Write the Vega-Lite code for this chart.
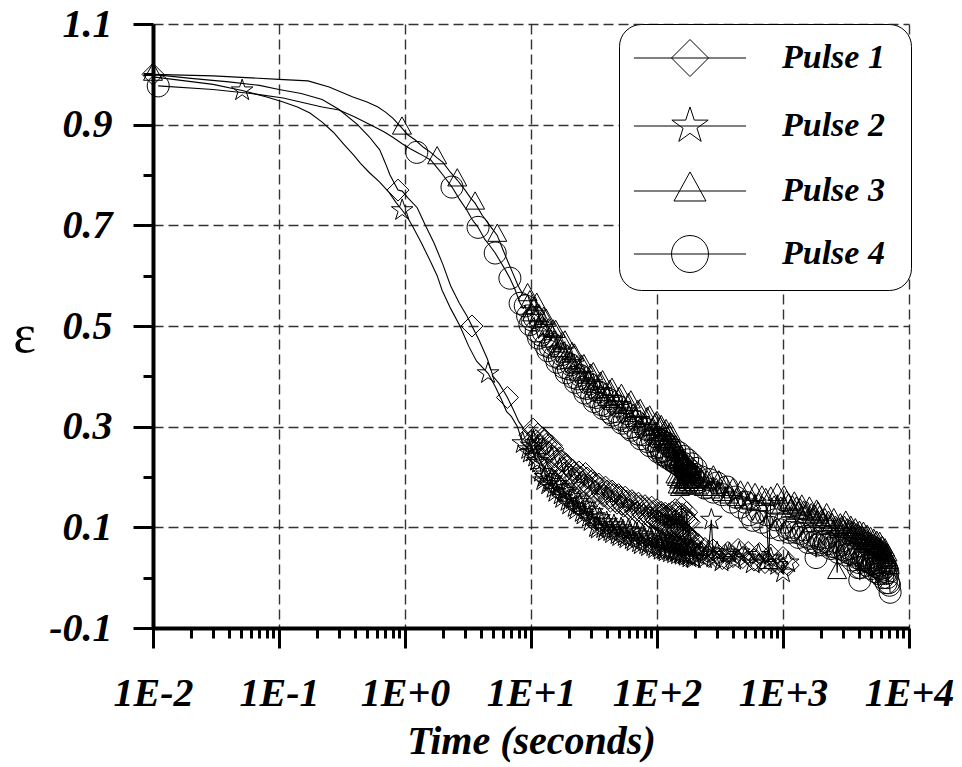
{
"$schema": "https://vega.github.io/schema/vega-lite/v6.json",
"width": 756, "height": 604,
"autosize": {"type": "none"},
"padding": {"left": 153, "top": 24, "right": 53, "bottom": 139},
"config": {"view": {"stroke": null}, "font": "Liberation Serif"},
"datasets": {
"early": [
{"pulse":"Pulse 1","time":0.01,"eps":1.0},{"pulse":"Pulse 1","time":0.88,"eps":0.77},{"pulse":"Pulse 1","time":3.4,"eps":0.5},{"pulse":"Pulse 1","time":6.5,"eps":0.358},
{"pulse":"Pulse 2","time":0.051,"eps":0.968},{"pulse":"Pulse 2","time":0.95,"eps":0.73},{"pulse":"Pulse 2","time":4.56,"eps":0.406},{"pulse":"Pulse 2","time":8.6,"eps":0.267},
{"pulse":"Pulse 3","time":0.01,"eps":1.0},{"pulse":"Pulse 3","time":0.946,"eps":0.893},{"pulse":"Pulse 3","time":1.8,"eps":0.834},{"pulse":"Pulse 3","time":2.6,"eps":0.79},{"pulse":"Pulse 3","time":3.6,"eps":0.744},{"pulse":"Pulse 3","time":5.4,"eps":0.68},
{"pulse":"Pulse 4","time":0.011,"eps":0.977},{"pulse":"Pulse 4","time":1.24,"eps":0.845},{"pulse":"Pulse 4","time":2.36,"eps":0.776},{"pulse":"Pulse 4","time":3.8,"eps":0.696},{"pulse":"Pulse 4","time":5.2,"eps":0.645},{"pulse":"Pulse 4","time":6.8,"eps":0.595},{"pulse":"Pulse 4","time":8.2,"eps":0.545}
],
"curve": [
{"pulse":"Pulse 1","time":0.01,"eps":1.0},{"pulse":"Pulse 1","time":0.02,"eps":0.992},{"pulse":"Pulse 1","time":0.04,"eps":0.985},{"pulse":"Pulse 1","time":0.07,"eps":0.978},{"pulse":"Pulse 1","time":0.1,"eps":0.97},{"pulse":"Pulse 1","time":0.15,"eps":0.962},{"pulse":"Pulse 1","time":0.22,"eps":0.95},{"pulse":"Pulse 1","time":0.3,"eps":0.93},{"pulse":"Pulse 1","time":0.42,"eps":0.9},{"pulse":"Pulse 1","time":0.52,"eps":0.876},{"pulse":"Pulse 1","time":0.63,"eps":0.85},{"pulse":"Pulse 1","time":0.7,"eps":0.823},{"pulse":"Pulse 1","time":0.76,"eps":0.8},{"pulse":"Pulse 1","time":0.88,"eps":0.77},{"pulse":"Pulse 1","time":0.95,"eps":0.768},{"pulse":"Pulse 1","time":1.05,"eps":0.755},{"pulse":"Pulse 1","time":1.25,"eps":0.735},{"pulse":"Pulse 1","time":1.45,"eps":0.7},{"pulse":"Pulse 1","time":1.7,"eps":0.665},{"pulse":"Pulse 1","time":2.0,"eps":0.622},{"pulse":"Pulse 1","time":2.3,"eps":0.58},{"pulse":"Pulse 1","time":2.7,"eps":0.545},{"pulse":"Pulse 1","time":3.1,"eps":0.52},{"pulse":"Pulse 1","time":3.4,"eps":0.5},{"pulse":"Pulse 1","time":3.9,"eps":0.47},{"pulse":"Pulse 1","time":4.5,"eps":0.435},{"pulse":"Pulse 1","time":5.0,"eps":0.4},{"pulse":"Pulse 1","time":5.6,"eps":0.385},{"pulse":"Pulse 1","time":6.1,"eps":0.37},{"pulse":"Pulse 1","time":6.5,"eps":0.358},{"pulse":"Pulse 1","time":7.2,"eps":0.335},{"pulse":"Pulse 1","time":8.0,"eps":0.31},{"pulse":"Pulse 1","time":8.8,"eps":0.295},
{"pulse":"Pulse 1","time":9.8,"eps":0.283},{"pulse":"Pulse 1","time":10.4,"eps":0.295},{"pulse":"Pulse 1","time":11.0,"eps":0.272},{"pulse":"Pulse 1","time":11.7,"eps":0.262},{"pulse":"Pulse 1","time":12.4,"eps":0.278},{"pulse":"Pulse 1","time":13.2,"eps":0.265},{"pulse":"Pulse 1","time":14.0,"eps":0.248},{"pulse":"Pulse 1","time":14.9,"eps":0.256},{"pulse":"Pulse 1","time":15.8,"eps":0.232},{"pulse":"Pulse 1","time":16.8,"eps":0.238},{"pulse":"Pulse 1","time":17.8,"eps":0.218},{"pulse":"Pulse 1","time":18.9,"eps":0.226},{"pulse":"Pulse 1","time":20.1,"eps":0.205},{"pulse":"Pulse 1","time":21.3,"eps":0.214},{"pulse":"Pulse 1","time":22.6,"eps":0.198},{"pulse":"Pulse 1","time":24.0,"eps":0.21},{"pulse":"Pulse 1","time":25.5,"eps":0.19},{"pulse":"Pulse 1","time":27.1,"eps":0.207},{"pulse":"Pulse 1","time":28.8,"eps":0.182},{"pulse":"Pulse 1","time":30.6,"eps":0.193},{"pulse":"Pulse 1","time":32.5,"eps":0.172},{"pulse":"Pulse 1","time":34.5,"eps":0.186},{"pulse":"Pulse 1","time":36.7,"eps":0.168},{"pulse":"Pulse 1","time":39.0,"eps":0.18},{"pulse":"Pulse 1","time":41.4,"eps":0.158},{"pulse":"Pulse 1","time":44.0,"eps":0.172},{"pulse":"Pulse 1","time":46.7,"eps":0.152},{"pulse":"Pulse 1","time":49.6,"eps":0.165},{"pulse":"Pulse 1","time":52.7,"eps":0.146},{"pulse":"Pulse 1","time":56.0,"eps":0.16},{"pulse":"Pulse 1","time":59.5,"eps":0.138},{"pulse":"Pulse 1","time":63.2,"eps":0.153},{"pulse":"Pulse 1","time":67.1,"eps":0.133},{"pulse":"Pulse 1","time":71.3,"eps":0.148},{"pulse":"Pulse 1","time":75.7,"eps":0.128},{"pulse":"Pulse 1","time":80.4,"eps":0.143},{"pulse":"Pulse 1","time":85.4,"eps":0.122},{"pulse":"Pulse 1","time":90.7,"eps":0.14},{"pulse":"Pulse 1","time":96.3,"eps":0.118},{"pulse":"Pulse 1","time":100,"eps":0.135},{"pulse":"Pulse 1","time":104,"eps":0.112},{"pulse":"Pulse 1","time":108,"eps":0.13},{"pulse":"Pulse 1","time":112,"eps":0.108},{"pulse":"Pulse 1","time":116,"eps":0.128},{"pulse":"Pulse 1","time":120,"eps":0.104},{"pulse":"Pulse 1","time":124,"eps":0.126},{"pulse":"Pulse 1","time":128,"eps":0.1},{"pulse":"Pulse 1","time":132,"eps":0.13},{"pulse":"Pulse 1","time":136,"eps":0.098},{"pulse":"Pulse 1","time":140,"eps":0.135},{"pulse":"Pulse 1","time":144,"eps":0.095},{"pulse":"Pulse 1","time":148,"eps":0.128},{"pulse":"Pulse 1","time":152,"eps":0.1},{"pulse":"Pulse 1","time":156,"eps":0.14},{"pulse":"Pulse 1","time":160,"eps":0.092},{"pulse":"Pulse 1","time":164,"eps":0.124},{"pulse":"Pulse 1","time":168,"eps":0.088},{"pulse":"Pulse 1","time":172,"eps":0.13},{"pulse":"Pulse 1","time":176,"eps":0.085},{"pulse":"Pulse 1","time":180,"eps":0.11},{"pulse":"Pulse 1","time":186,"eps":0.068},{"pulse":"Pulse 1","time":193,"eps":0.075},{"pulse":"Pulse 1","time":200,"eps":0.058},{"pulse":"Pulse 1","time":212,"eps":0.066},{"pulse":"Pulse 1","time":225,"eps":0.05},{"pulse":"Pulse 1","time":240,"eps":0.058},{"pulse":"Pulse 1","time":258,"eps":0.042},{"pulse":"Pulse 1","time":278,"eps":0.055},{"pulse":"Pulse 1","time":300,"eps":0.04},{"pulse":"Pulse 1","time":330,"eps":0.038},{"pulse":"Pulse 1","time":365,"eps":0.05},{"pulse":"Pulse 1","time":400,"eps":0.042},{"pulse":"Pulse 1","time":440,"eps":0.056},{"pulse":"Pulse 1","time":480,"eps":0.04},{"pulse":"Pulse 1","time":530,"eps":0.05},{"pulse":"Pulse 1","time":590,"eps":0.035},{"pulse":"Pulse 1","time":650,"eps":0.048},{"pulse":"Pulse 1","time":720,"eps":0.03},{"pulse":"Pulse 1","time":800,"eps":0.045},{"pulse":"Pulse 1","time":900,"eps":0.028},{"pulse":"Pulse 1","time":1000,"eps":0.04},{"pulse":"Pulse 1","time":1100,"eps":0.025},
{"pulse":"Pulse 2","time":0.01,"eps":0.995},{"pulse":"Pulse 2","time":0.03,"eps":0.98},{"pulse":"Pulse 2","time":0.051,"eps":0.968},{"pulse":"Pulse 2","time":0.08,"eps":0.955},{"pulse":"Pulse 2","time":0.108,"eps":0.945},{"pulse":"Pulse 2","time":0.14,"eps":0.935},{"pulse":"Pulse 2","time":0.176,"eps":0.923},{"pulse":"Pulse 2","time":0.22,"eps":0.905},{"pulse":"Pulse 2","time":0.27,"eps":0.885},{"pulse":"Pulse 2","time":0.33,"eps":0.86},{"pulse":"Pulse 2","time":0.39,"eps":0.84},{"pulse":"Pulse 2","time":0.44,"eps":0.824},{"pulse":"Pulse 2","time":0.52,"eps":0.805},{"pulse":"Pulse 2","time":0.63,"eps":0.786},{"pulse":"Pulse 2","time":0.75,"eps":0.765},{"pulse":"Pulse 2","time":0.85,"eps":0.745},{"pulse":"Pulse 2","time":0.95,"eps":0.73},{"pulse":"Pulse 2","time":1.05,"eps":0.715},{"pulse":"Pulse 2","time":1.16,"eps":0.696},{"pulse":"Pulse 2","time":1.35,"eps":0.665},{"pulse":"Pulse 2","time":1.58,"eps":0.63},{"pulse":"Pulse 2","time":1.8,"eps":0.6},{"pulse":"Pulse 2","time":1.97,"eps":0.571},{"pulse":"Pulse 2","time":2.3,"eps":0.535},{"pulse":"Pulse 2","time":2.73,"eps":0.5},{"pulse":"Pulse 2","time":3.2,"eps":0.46},{"pulse":"Pulse 2","time":3.7,"eps":0.43},{"pulse":"Pulse 2","time":4.56,"eps":0.406},{"pulse":"Pulse 2","time":5.2,"eps":0.38},{"pulse":"Pulse 2","time":5.8,"eps":0.355},{"pulse":"Pulse 2","time":6.4,"eps":0.33},{"pulse":"Pulse 2","time":7.0,"eps":0.32},{"pulse":"Pulse 2","time":7.8,"eps":0.3},{"pulse":"Pulse 2","time":8.6,"eps":0.267},
{"pulse":"Pulse 2","time":9.5,"eps":0.255},{"pulse":"Pulse 2","time":10.1,"eps":0.262},{"pulse":"Pulse 2","time":10.8,"eps":0.24},{"pulse":"Pulse 2","time":11.6,"eps":0.228},{"pulse":"Pulse 2","time":12.5,"eps":0.193},{"pulse":"Pulse 2","time":13.3,"eps":0.205},{"pulse":"Pulse 2","time":14.2,"eps":0.19},{"pulse":"Pulse 2","time":15.1,"eps":0.178},{"pulse":"Pulse 2","time":16.1,"eps":0.186},{"pulse":"Pulse 2","time":17.2,"eps":0.165},{"pulse":"Pulse 2","time":18.3,"eps":0.172},{"pulse":"Pulse 2","time":19.5,"eps":0.152},{"pulse":"Pulse 2","time":20.8,"eps":0.16},{"pulse":"Pulse 2","time":22.2,"eps":0.14},{"pulse":"Pulse 2","time":23.7,"eps":0.15},{"pulse":"Pulse 2","time":25.3,"eps":0.13},{"pulse":"Pulse 2","time":27.0,"eps":0.142},{"pulse":"Pulse 2","time":28.8,"eps":0.12},{"pulse":"Pulse 2","time":30.7,"eps":0.13},{"pulse":"Pulse 2","time":32.8,"eps":0.1},{"pulse":"Pulse 2","time":35.0,"eps":0.118},{"pulse":"Pulse 2","time":37.4,"eps":0.098},{"pulse":"Pulse 2","time":39.9,"eps":0.11},{"pulse":"Pulse 2","time":42.6,"eps":0.092},{"pulse":"Pulse 2","time":45.5,"eps":0.104},{"pulse":"Pulse 2","time":48.6,"eps":0.086},{"pulse":"Pulse 2","time":51.9,"eps":0.098},{"pulse":"Pulse 2","time":55.4,"eps":0.082},{"pulse":"Pulse 2","time":59.1,"eps":0.094},{"pulse":"Pulse 2","time":63.1,"eps":0.076},{"pulse":"Pulse 2","time":67.4,"eps":0.09},{"pulse":"Pulse 2","time":72.0,"eps":0.07},{"pulse":"Pulse 2","time":76.9,"eps":0.084},{"pulse":"Pulse 2","time":82.1,"eps":0.066},{"pulse":"Pulse 2","time":87.7,"eps":0.08},{"pulse":"Pulse 2","time":93.6,"eps":0.062},{"pulse":"Pulse 2","time":100,"eps":0.078},{"pulse":"Pulse 2","time":105,"eps":0.06},{"pulse":"Pulse 2","time":110,"eps":0.076},{"pulse":"Pulse 2","time":115,"eps":0.056},{"pulse":"Pulse 2","time":120,"eps":0.074},{"pulse":"Pulse 2","time":125,"eps":0.054},{"pulse":"Pulse 2","time":130,"eps":0.072},{"pulse":"Pulse 2","time":135,"eps":0.052},{"pulse":"Pulse 2","time":140,"eps":0.07},{"pulse":"Pulse 2","time":145,"eps":0.05},{"pulse":"Pulse 2","time":150,"eps":0.068},{"pulse":"Pulse 2","time":155,"eps":0.048},{"pulse":"Pulse 2","time":160,"eps":0.066},{"pulse":"Pulse 2","time":166,"eps":0.046},{"pulse":"Pulse 2","time":172,"eps":0.062},{"pulse":"Pulse 2","time":178,"eps":0.044},{"pulse":"Pulse 2","time":185,"eps":0.06},{"pulse":"Pulse 2","time":192,"eps":0.04},{"pulse":"Pulse 2","time":200,"eps":0.052},{"pulse":"Pulse 2","time":210,"eps":0.045},{"pulse":"Pulse 2","time":225,"eps":0.048},{"pulse":"Pulse 2","time":240,"eps":0.038},{"pulse":"Pulse 2","time":255,"eps":0.052},{"pulse":"Pulse 2","time":270,"eps":0.115},{"pulse":"Pulse 2","time":280,"eps":0.04},{"pulse":"Pulse 2","time":300,"eps":0.05},{"pulse":"Pulse 2","time":325,"eps":0.032},{"pulse":"Pulse 2","time":350,"eps":0.045},{"pulse":"Pulse 2","time":376,"eps":0.048},{"pulse":"Pulse 2","time":410,"eps":0.035},{"pulse":"Pulse 2","time":450,"eps":0.05},{"pulse":"Pulse 2","time":500,"eps":0.04},{"pulse":"Pulse 2","time":575,"eps":0.028},{"pulse":"Pulse 2","time":640,"eps":0.045},{"pulse":"Pulse 2","time":720,"eps":0.03},{"pulse":"Pulse 2","time":800,"eps":0.038},{"pulse":"Pulse 2","time":900,"eps":0.025},{"pulse":"Pulse 2","time":1000,"eps":0.01},{"pulse":"Pulse 2","time":1100,"eps":0.03},
{"pulse":"Pulse 3","time":0.01,"eps":1.0},{"pulse":"Pulse 3","time":0.03,"eps":0.997},{"pulse":"Pulse 3","time":0.06,"eps":0.993},{"pulse":"Pulse 3","time":0.1,"eps":0.99},{"pulse":"Pulse 3","time":0.17,"eps":0.987},{"pulse":"Pulse 3","time":0.25,"eps":0.975},{"pulse":"Pulse 3","time":0.386,"eps":0.955},{"pulse":"Pulse 3","time":0.5,"eps":0.945},{"pulse":"Pulse 3","time":0.61,"eps":0.935},{"pulse":"Pulse 3","time":0.7,"eps":0.925},{"pulse":"Pulse 3","time":0.8,"eps":0.913},{"pulse":"Pulse 3","time":0.946,"eps":0.893},{"pulse":"Pulse 3","time":1.05,"eps":0.88},{"pulse":"Pulse 3","time":1.2,"eps":0.87},{"pulse":"Pulse 3","time":1.4,"eps":0.855},{"pulse":"Pulse 3","time":1.6,"eps":0.845},{"pulse":"Pulse 3","time":1.8,"eps":0.834},{"pulse":"Pulse 3","time":2.0,"eps":0.825},{"pulse":"Pulse 3","time":2.3,"eps":0.805},{"pulse":"Pulse 3","time":2.6,"eps":0.79},{"pulse":"Pulse 3","time":3.0,"eps":0.77},{"pulse":"Pulse 3","time":3.3,"eps":0.755},{"pulse":"Pulse 3","time":3.6,"eps":0.744},{"pulse":"Pulse 3","time":4.1,"eps":0.72},{"pulse":"Pulse 3","time":4.7,"eps":0.7},{"pulse":"Pulse 3","time":5.4,"eps":0.68},{"pulse":"Pulse 3","time":6.0,"eps":0.651},{"pulse":"Pulse 3","time":6.6,"eps":0.626},{"pulse":"Pulse 3","time":7.2,"eps":0.604},{"pulse":"Pulse 3","time":7.9,"eps":0.58},{"pulse":"Pulse 3","time":8.6,"eps":0.563},
{"pulse":"Pulse 3","time":9.4,"eps":0.562},{"pulse":"Pulse 3","time":10.2,"eps":0.522},{"pulse":"Pulse 3","time":11.1,"eps":0.543},{"pulse":"Pulse 3","time":12.1,"eps":0.502},{"pulse":"Pulse 3","time":13.2,"eps":0.511},{"pulse":"Pulse 3","time":14.4,"eps":0.47},{"pulse":"Pulse 3","time":15.7,"eps":0.489},{"pulse":"Pulse 3","time":17.1,"eps":0.451},{"pulse":"Pulse 3","time":18.6,"eps":0.468},{"pulse":"Pulse 3","time":20.3,"eps":0.427},{"pulse":"Pulse 3","time":22.1,"eps":0.442},{"pulse":"Pulse 3","time":24.1,"eps":0.404},{"pulse":"Pulse 3","time":26.3,"eps":0.421},{"pulse":"Pulse 3","time":28.6,"eps":0.386},{"pulse":"Pulse 3","time":31.2,"eps":0.405},{"pulse":"Pulse 3","time":34,"eps":0.369},{"pulse":"Pulse 3","time":37,"eps":0.389},{"pulse":"Pulse 3","time":40.3,"eps":0.354},{"pulse":"Pulse 3","time":43.9,"eps":0.374},{"pulse":"Pulse 3","time":47.9,"eps":0.341},{"pulse":"Pulse 3","time":52.2,"eps":0.362},{"pulse":"Pulse 3","time":56.9,"eps":0.329},{"pulse":"Pulse 3","time":62,"eps":0.349},{"pulse":"Pulse 3","time":67.6,"eps":0.312},{"pulse":"Pulse 3","time":73.6,"eps":0.332},{"pulse":"Pulse 3","time":80.2,"eps":0.297},{"pulse":"Pulse 3","time":87.4,"eps":0.319},{"pulse":"Pulse 3","time":95.3,"eps":0.285},{"pulse":"Pulse 3","time":100,"eps":0.308},{"pulse":"Pulse 3","time":104,"eps":0.277},{"pulse":"Pulse 3","time":108,"eps":0.3},{"pulse":"Pulse 3","time":113,"eps":0.271},{"pulse":"Pulse 3","time":118,"eps":0.292},{"pulse":"Pulse 3","time":123,"eps":0.265},{"pulse":"Pulse 3","time":128,"eps":0.286},{"pulse":"Pulse 3","time":134,"eps":0.26},{"pulse":"Pulse 3","time":137,"eps":0.25},{"pulse":"Pulse 3","time":140,"eps":0.2},{"pulse":"Pulse 3","time":143,"eps":0.245},{"pulse":"Pulse 3","time":146,"eps":0.18},{"pulse":"Pulse 3","time":149,"eps":0.235},{"pulse":"Pulse 3","time":152,"eps":0.175},{"pulse":"Pulse 3","time":155,"eps":0.228},{"pulse":"Pulse 3","time":158,"eps":0.18},{"pulse":"Pulse 3","time":161,"eps":0.222},{"pulse":"Pulse 3","time":164,"eps":0.178},{"pulse":"Pulse 3","time":167,"eps":0.218},{"pulse":"Pulse 3","time":170,"eps":0.182},{"pulse":"Pulse 3","time":174,"eps":0.215},{"pulse":"Pulse 3","time":178,"eps":0.185},{"pulse":"Pulse 3","time":182,"eps":0.21},{"pulse":"Pulse 3","time":186,"eps":0.178},{"pulse":"Pulse 3","time":190,"eps":0.205},{"pulse":"Pulse 3","time":195,"eps":0.185},{"pulse":"Pulse 3","time":200,"eps":0.2},{"pulse":"Pulse 3","time":210,"eps":0.178},{"pulse":"Pulse 3","time":222,"eps":0.195},{"pulse":"Pulse 3","time":235,"eps":0.175},{"pulse":"Pulse 3","time":250,"eps":0.19},{"pulse":"Pulse 3","time":265,"eps":0.17},{"pulse":"Pulse 3","time":280,"eps":0.2},{"pulse":"Pulse 3","time":295,"eps":0.175},{"pulse":"Pulse 3","time":310,"eps":0.19},{"pulse":"Pulse 3","time":330,"eps":0.165},{"pulse":"Pulse 3","time":350,"eps":0.18},{"pulse":"Pulse 3","time":375,"eps":0.16},{"pulse":"Pulse 3","time":400,"eps":0.175},{"pulse":"Pulse 3","time":430,"eps":0.155},{"pulse":"Pulse 3","time":460,"eps":0.17},{"pulse":"Pulse 3","time":490,"eps":0.15},{"pulse":"Pulse 3","time":525,"eps":0.168},{"pulse":"Pulse 3","time":560,"eps":0.148},{"pulse":"Pulse 3","time":600,"eps":0.165},{"pulse":"Pulse 3","time":640,"eps":0.145},{"pulse":"Pulse 3","time":680,"eps":0.16},{"pulse":"Pulse 3","time":730,"eps":0.155},{"pulse":"Pulse 3","time":770,"eps":0.03},{"pulse":"Pulse 3","time":800,"eps":0.158},{"pulse":"Pulse 3","time":850,"eps":0.14},{"pulse":"Pulse 3","time":900,"eps":0.165},{"pulse":"Pulse 3","time":960,"eps":0.138},{"pulse":"Pulse 3","time":1020,"eps":0.16},{"pulse":"Pulse 3","time":1070,"eps":0.15},{"pulse":"Pulse 3","time":1150,"eps":0.132},{"pulse":"Pulse 3","time":1230,"eps":0.148},{"pulse":"Pulse 3","time":1320,"eps":0.128},{"pulse":"Pulse 3","time":1410,"eps":0.142},{"pulse":"Pulse 3","time":1510,"eps":0.12},{"pulse":"Pulse 3","time":1620,"eps":0.138},{"pulse":"Pulse 3","time":1730,"eps":0.115},{"pulse":"Pulse 3","time":1850,"eps":0.132},{"pulse":"Pulse 3","time":1950,"eps":0.12},{"pulse":"Pulse 3","time":2080,"eps":0.105},{"pulse":"Pulse 3","time":2220,"eps":0.125},{"pulse":"Pulse 3","time":2370,"eps":0.098},{"pulse":"Pulse 3","time":2530,"eps":0.115},{"pulse":"Pulse 3","time":2690,"eps":0.01},{"pulse":"Pulse 3","time":2850,"eps":0.105},{"pulse":"Pulse 3","time":3000,"eps":0.092},{"pulse":"Pulse 3","time":3150,"eps":0.11},{"pulse":"Pulse 3","time":3300,"eps":0.085},{"pulse":"Pulse 3","time":3450,"eps":0.1},{"pulse":"Pulse 3","time":3600,"eps":0.08},{"pulse":"Pulse 3","time":3750,"eps":0.095},{"pulse":"Pulse 3","time":3900,"eps":0.075},{"pulse":"Pulse 3","time":4050,"eps":0.09},{"pulse":"Pulse 3","time":4200,"eps":0.07},{"pulse":"Pulse 3","time":4350,"eps":0.088},{"pulse":"Pulse 3","time":4500,"eps":0.068},{"pulse":"Pulse 3","time":4650,"eps":0.082},{"pulse":"Pulse 3","time":4800,"eps":0.062},{"pulse":"Pulse 3","time":4950,"eps":0.078},{"pulse":"Pulse 3","time":5100,"eps":0.058},{"pulse":"Pulse 3","time":5250,"eps":0.074},{"pulse":"Pulse 3","time":5400,"eps":0.055},{"pulse":"Pulse 3","time":5550,"eps":0.07},{"pulse":"Pulse 3","time":5700,"eps":0.05},{"pulse":"Pulse 3","time":5850,"eps":0.068},{"pulse":"Pulse 3","time":6000,"eps":0.045},{"pulse":"Pulse 3","time":6150,"eps":0.06},{"pulse":"Pulse 3","time":6300,"eps":0.04},{"pulse":"Pulse 3","time":6450,"eps":0.055},{"pulse":"Pulse 3","time":6600,"eps":0.035},{"pulse":"Pulse 3","time":6750,"eps":0.045},{"pulse":"Pulse 3","time":6900,"eps":0.025},{"pulse":"Pulse 3","time":7000,"eps":0.02},
{"pulse":"Pulse 4","time":0.011,"eps":0.977},{"pulse":"Pulse 4","time":0.03,"eps":0.97},{"pulse":"Pulse 4","time":0.06,"eps":0.962},{"pulse":"Pulse 4","time":0.108,"eps":0.953},{"pulse":"Pulse 4","time":0.16,"eps":0.943},{"pulse":"Pulse 4","time":0.22,"eps":0.935},{"pulse":"Pulse 4","time":0.3,"eps":0.929},{"pulse":"Pulse 4","time":0.4,"eps":0.915},{"pulse":"Pulse 4","time":0.56,"eps":0.897},{"pulse":"Pulse 4","time":0.68,"eps":0.886},{"pulse":"Pulse 4","time":0.8,"eps":0.875},{"pulse":"Pulse 4","time":0.95,"eps":0.862},{"pulse":"Pulse 4","time":1.1,"eps":0.852},{"pulse":"Pulse 4","time":1.24,"eps":0.845},{"pulse":"Pulse 4","time":1.4,"eps":0.838},{"pulse":"Pulse 4","time":1.6,"eps":0.83},{"pulse":"Pulse 4","time":1.75,"eps":0.818},{"pulse":"Pulse 4","time":2.0,"eps":0.8},{"pulse":"Pulse 4","time":2.36,"eps":0.776},{"pulse":"Pulse 4","time":2.7,"eps":0.752},{"pulse":"Pulse 4","time":3.1,"eps":0.73},{"pulse":"Pulse 4","time":3.4,"eps":0.712},{"pulse":"Pulse 4","time":3.8,"eps":0.696},{"pulse":"Pulse 4","time":4.3,"eps":0.672},{"pulse":"Pulse 4","time":4.7,"eps":0.66},{"pulse":"Pulse 4","time":5.2,"eps":0.645},{"pulse":"Pulse 4","time":5.8,"eps":0.625},{"pulse":"Pulse 4","time":6.3,"eps":0.61},{"pulse":"Pulse 4","time":6.8,"eps":0.595},{"pulse":"Pulse 4","time":7.4,"eps":0.575},{"pulse":"Pulse 4","time":8.2,"eps":0.545},{"pulse":"Pulse 4","time":8.7,"eps":0.535},
{"pulse":"Pulse 4","time":9.0,"eps":0.54},{"pulse":"Pulse 4","time":9.8,"eps":0.503},{"pulse":"Pulse 4","time":10.6,"eps":0.517},{"pulse":"Pulse 4","time":11.5,"eps":0.476},{"pulse":"Pulse 4","time":12.5,"eps":0.488},{"pulse":"Pulse 4","time":13.6,"eps":0.451},{"pulse":"Pulse 4","time":14.8,"eps":0.464},{"pulse":"Pulse 4","time":16.1,"eps":0.428},{"pulse":"Pulse 4","time":17.5,"eps":0.443},{"pulse":"Pulse 4","time":19.0,"eps":0.407},{"pulse":"Pulse 4","time":20.7,"eps":0.423},{"pulse":"Pulse 4","time":22.5,"eps":0.388},{"pulse":"Pulse 4","time":24.5,"eps":0.402},{"pulse":"Pulse 4","time":26.7,"eps":0.367},{"pulse":"Pulse 4","time":29.0,"eps":0.385},{"pulse":"Pulse 4","time":31.6,"eps":0.35},{"pulse":"Pulse 4","time":34.4,"eps":0.369},{"pulse":"Pulse 4","time":37.5,"eps":0.336},{"pulse":"Pulse 4","time":40.8,"eps":0.355},{"pulse":"Pulse 4","time":44.5,"eps":0.323},{"pulse":"Pulse 4","time":48.5,"eps":0.341},{"pulse":"Pulse 4","time":52.8,"eps":0.307},{"pulse":"Pulse 4","time":57.5,"eps":0.326},{"pulse":"Pulse 4","time":62.6,"eps":0.293},{"pulse":"Pulse 4","time":68.2,"eps":0.31},{"pulse":"Pulse 4","time":74.3,"eps":0.276},{"pulse":"Pulse 4","time":81.0,"eps":0.295},{"pulse":"Pulse 4","time":88.2,"eps":0.262},{"pulse":"Pulse 4","time":96.1,"eps":0.28},{"pulse":"Pulse 4","time":102,"eps":0.25},{"pulse":"Pulse 4","time":106,"eps":0.273},{"pulse":"Pulse 4","time":111,"eps":0.244},{"pulse":"Pulse 4","time":116,"eps":0.267},{"pulse":"Pulse 4","time":121,"eps":0.238},{"pulse":"Pulse 4","time":126,"eps":0.261},{"pulse":"Pulse 4","time":132,"eps":0.232},{"pulse":"Pulse 4","time":138,"eps":0.254},{"pulse":"Pulse 4","time":144,"eps":0.226},{"pulse":"Pulse 4","time":150,"eps":0.248},{"pulse":"Pulse 4","time":156,"eps":0.22},{"pulse":"Pulse 4","time":162,"eps":0.241},{"pulse":"Pulse 4","time":168,"eps":0.213},{"pulse":"Pulse 4","time":175,"eps":0.234},{"pulse":"Pulse 4","time":182,"eps":0.205},{"pulse":"Pulse 4","time":189,"eps":0.226},{"pulse":"Pulse 4","time":196,"eps":0.199},{"pulse":"Pulse 4","time":204,"eps":0.217},{"pulse":"Pulse 4","time":212,"eps":0.19},{"pulse":"Pulse 4","time":225,"eps":0.2},{"pulse":"Pulse 4","time":240,"eps":0.178},{"pulse":"Pulse 4","time":258,"eps":0.195},{"pulse":"Pulse 4","time":280,"eps":0.17},{"pulse":"Pulse 4","time":300,"eps":0.188},{"pulse":"Pulse 4","time":330,"eps":0.165},{"pulse":"Pulse 4","time":359,"eps":0.18},{"pulse":"Pulse 4","time":390,"eps":0.15},{"pulse":"Pulse 4","time":420,"eps":0.16},{"pulse":"Pulse 4","time":460,"eps":0.14},{"pulse":"Pulse 4","time":500,"eps":0.15},{"pulse":"Pulse 4","time":540,"eps":0.125},{"pulse":"Pulse 4","time":575,"eps":0.114},{"pulse":"Pulse 4","time":620,"eps":0.13},{"pulse":"Pulse 4","time":680,"eps":0.11},{"pulse":"Pulse 4","time":740,"eps":0.125},{"pulse":"Pulse 4","time":800,"eps":0.1},{"pulse":"Pulse 4","time":870,"eps":0.115},{"pulse":"Pulse 4","time":950,"eps":0.095},{"pulse":"Pulse 4","time":1030,"eps":0.11},{"pulse":"Pulse 4","time":1120,"eps":0.09},{"pulse":"Pulse 4","time":1220,"eps":0.1},{"pulse":"Pulse 4","time":1330,"eps":0.08},{"pulse":"Pulse 4","time":1450,"eps":0.095},{"pulse":"Pulse 4","time":1580,"eps":0.07},{"pulse":"Pulse 4","time":1700,"eps":0.085},{"pulse":"Pulse 4","time":1830,"eps":0.04},{"pulse":"Pulse 4","time":1950,"eps":0.078},{"pulse":"Pulse 4","time":2100,"eps":0.065},{"pulse":"Pulse 4","time":2250,"eps":0.08},{"pulse":"Pulse 4","time":2400,"eps":0.058},{"pulse":"Pulse 4","time":2580,"eps":0.072},{"pulse":"Pulse 4","time":2750,"eps":0.05},{"pulse":"Pulse 4","time":2950,"eps":0.065},{"pulse":"Pulse 4","time":3150,"eps":0.045},{"pulse":"Pulse 4","time":3350,"eps":0.058},{"pulse":"Pulse 4","time":3550,"eps":0.035},{"pulse":"Pulse 4","time":3750,"eps":0.05},{"pulse":"Pulse 4","time":3950,"eps":0.02},{"pulse":"Pulse 4","time":4070,"eps":-0.005},{"pulse":"Pulse 4","time":4200,"eps":0.035},{"pulse":"Pulse 4","time":4400,"eps":0.045},{"pulse":"Pulse 4","time":4600,"eps":0.025},{"pulse":"Pulse 4","time":4800,"eps":0.04},{"pulse":"Pulse 4","time":5000,"eps":0.018},{"pulse":"Pulse 4","time":5200,"eps":0.035},{"pulse":"Pulse 4","time":5400,"eps":0.012},{"pulse":"Pulse 4","time":5600,"eps":0.03},{"pulse":"Pulse 4","time":5800,"eps":0.008},{"pulse":"Pulse 4","time":6000,"eps":0.025},{"pulse":"Pulse 4","time":6200,"eps":0.0},{"pulse":"Pulse 4","time":6400,"eps":0.02},{"pulse":"Pulse 4","time":6600,"eps":-0.01},{"pulse":"Pulse 4","time":6800,"eps":0.01},{"pulse":"Pulse 4","time":7080,"eps":-0.029},
{"pulse":"Pulse 1","time":10.1,"eps":0.27},{"pulse":"Pulse 1","time":11.3,"eps":0.285},{"pulse":"Pulse 1","time":12.0,"eps":0.255},{"pulse":"Pulse 1","time":12.8,"eps":0.272},{"pulse":"Pulse 1","time":13.6,"eps":0.25},{"pulse":"Pulse 1","time":14.5,"eps":0.262},{"pulse":"Pulse 1","time":15.3,"eps":0.24},{"pulse":"Pulse 1","time":16.3,"eps":0.225},{"pulse":"Pulse 1","time":17.3,"eps":0.232},{"pulse":"Pulse 1","time":18.3,"eps":0.208},{"pulse":"Pulse 1","time":19.5,"eps":0.222},{"pulse":"Pulse 1","time":20.7,"eps":0.2},{"pulse":"Pulse 1","time":22.0,"eps":0.208},{"pulse":"Pulse 1","time":23.3,"eps":0.19},{"pulse":"Pulse 1","time":24.7,"eps":0.2},{"pulse":"Pulse 1","time":26.3,"eps":0.185},{"pulse":"Pulse 1","time":27.9,"eps":0.198},{"pulse":"Pulse 1","time":29.7,"eps":0.178},{"pulse":"Pulse 1","time":31.5,"eps":0.188},{"pulse":"Pulse 1","time":33.5,"eps":0.165},{"pulse":"Pulse 1","time":35.6,"eps":0.178},{"pulse":"Pulse 1","time":37.8,"eps":0.162},{"pulse":"Pulse 1","time":40.2,"eps":0.172},{"pulse":"Pulse 1","time":42.7,"eps":0.152},{"pulse":"Pulse 1","time":45.3,"eps":0.165},{"pulse":"Pulse 1","time":48.1,"eps":0.148},{"pulse":"Pulse 1","time":51.1,"eps":0.16},{"pulse":"Pulse 1","time":54.3,"eps":0.142},{"pulse":"Pulse 1","time":57.7,"eps":0.152},{"pulse":"Pulse 1","time":61.3,"eps":0.135},{"pulse":"Pulse 1","time":65.1,"eps":0.148},{"pulse":"Pulse 1","time":69.1,"eps":0.13},{"pulse":"Pulse 1","time":73.4,"eps":0.142},{"pulse":"Pulse 1","time":78.0,"eps":0.125},{"pulse":"Pulse 1","time":82.8,"eps":0.138},{"pulse":"Pulse 1","time":88.0,"eps":0.12},{"pulse":"Pulse 1","time":93.4,"eps":0.132},{"pulse":"Pulse 1","time":98,"eps":0.115},{"pulse":"Pulse 1","time":102,"eps":0.128},{"pulse":"Pulse 1","time":106,"eps":0.108},{"pulse":"Pulse 1","time":110,"eps":0.125},{"pulse":"Pulse 1","time":114,"eps":0.104},{"pulse":"Pulse 1","time":118,"eps":0.122},{"pulse":"Pulse 1","time":122,"eps":0.1},{"pulse":"Pulse 1","time":126,"eps":0.12},{"pulse":"Pulse 1","time":130,"eps":0.098},{"pulse":"Pulse 1","time":134,"eps":0.118},{"pulse":"Pulse 1","time":138,"eps":0.102},{"pulse":"Pulse 1","time":142,"eps":0.128},{"pulse":"Pulse 1","time":146,"eps":0.094},{"pulse":"Pulse 1","time":150,"eps":0.12},{"pulse":"Pulse 1","time":154,"eps":0.095},{"pulse":"Pulse 1","time":158,"eps":0.126},{"pulse":"Pulse 1","time":162,"eps":0.09},{"pulse":"Pulse 1","time":166,"eps":0.118},{"pulse":"Pulse 1","time":170,"eps":0.086},{"pulse":"Pulse 1","time":174,"eps":0.112},{"pulse":"Pulse 1","time":178,"eps":0.08},
{"pulse":"Pulse 2","time":9.8,"eps":0.248},{"pulse":"Pulse 2","time":10.4,"eps":0.25},{"pulse":"Pulse 2","time":11.2,"eps":0.232},{"pulse":"Pulse 2","time":12.0,"eps":0.21},{"pulse":"Pulse 2","time":12.9,"eps":0.2},{"pulse":"Pulse 2","time":13.7,"eps":0.185},{"pulse":"Pulse 2","time":14.6,"eps":0.195},{"pulse":"Pulse 2","time":15.6,"eps":0.17},{"pulse":"Pulse 2","time":16.6,"eps":0.18},{"pulse":"Pulse 2","time":17.7,"eps":0.158},{"pulse":"Pulse 2","time":18.9,"eps":0.168},{"pulse":"Pulse 2","time":20.1,"eps":0.145},{"pulse":"Pulse 2","time":21.5,"eps":0.155},{"pulse":"Pulse 2","time":22.9,"eps":0.135},{"pulse":"Pulse 2","time":24.5,"eps":0.145},{"pulse":"Pulse 2","time":26.1,"eps":0.125},{"pulse":"Pulse 2","time":27.9,"eps":0.135},{"pulse":"Pulse 2","time":29.7,"eps":0.112},{"pulse":"Pulse 2","time":31.7,"eps":0.122},{"pulse":"Pulse 2","time":33.9,"eps":0.097},{"pulse":"Pulse 2","time":36.2,"eps":0.11},{"pulse":"Pulse 2","time":38.6,"eps":0.092},{"pulse":"Pulse 2","time":41.2,"eps":0.104},{"pulse":"Pulse 2","time":44.0,"eps":0.088},{"pulse":"Pulse 2","time":47.0,"eps":0.098},{"pulse":"Pulse 2","time":50.2,"eps":0.082},{"pulse":"Pulse 2","time":53.6,"eps":0.094},{"pulse":"Pulse 2","time":57.2,"eps":0.078},{"pulse":"Pulse 2","time":61.1,"eps":0.09},{"pulse":"Pulse 2","time":65.2,"eps":0.072},{"pulse":"Pulse 2","time":69.7,"eps":0.086},{"pulse":"Pulse 2","time":74.4,"eps":0.066},{"pulse":"Pulse 2","time":79.5,"eps":0.08},{"pulse":"Pulse 2","time":84.9,"eps":0.062},{"pulse":"Pulse 2","time":90.6,"eps":0.076},{"pulse":"Pulse 2","time":96.8,"eps":0.058},{"pulse":"Pulse 2","time":102,"eps":0.072},{"pulse":"Pulse 2","time":107,"eps":0.055},{"pulse":"Pulse 2","time":112,"eps":0.07},{"pulse":"Pulse 2","time":117,"eps":0.052},{"pulse":"Pulse 2","time":122,"eps":0.068},{"pulse":"Pulse 2","time":127,"eps":0.05},{"pulse":"Pulse 2","time":132,"eps":0.066},{"pulse":"Pulse 2","time":137,"eps":0.048},{"pulse":"Pulse 2","time":142,"eps":0.064},{"pulse":"Pulse 2","time":147,"eps":0.046},{"pulse":"Pulse 2","time":152,"eps":0.062},{"pulse":"Pulse 2","time":157,"eps":0.045},{"pulse":"Pulse 2","time":163,"eps":0.06},{"pulse":"Pulse 2","time":169,"eps":0.043},{"pulse":"Pulse 2","time":175,"eps":0.058},{"pulse":"Pulse 2","time":181,"eps":0.04},{"pulse":"Pulse 2","time":188,"eps":0.055},{"pulse":"Pulse 2","time":196,"eps":0.038},
{"pulse":"Pulse 3","time":9.8,"eps":0.548},{"pulse":"Pulse 3","time":10.6,"eps":0.535},{"pulse":"Pulse 3","time":11.6,"eps":0.52},{"pulse":"Pulse 3","time":12.6,"eps":0.515},{"pulse":"Pulse 3","time":13.8,"eps":0.492},{"pulse":"Pulse 3","time":15.0,"eps":0.49},{"pulse":"Pulse 3","time":16.4,"eps":0.46},{"pulse":"Pulse 3","time":17.8,"eps":0.466},{"pulse":"Pulse 3","time":19.4,"eps":0.44},{"pulse":"Pulse 3","time":21.2,"eps":0.445},{"pulse":"Pulse 3","time":23.1,"eps":0.418},{"pulse":"Pulse 3","time":25.2,"eps":0.42},{"pulse":"Pulse 3","time":27.4,"eps":0.398},{"pulse":"Pulse 3","time":29.9,"eps":0.402},{"pulse":"Pulse 3","time":32.6,"eps":0.38},{"pulse":"Pulse 3","time":35.5,"eps":0.386},{"pulse":"Pulse 3","time":38.6,"eps":0.364},{"pulse":"Pulse 3","time":42.1,"eps":0.37},{"pulse":"Pulse 3","time":45.9,"eps":0.35},{"pulse":"Pulse 3","time":50.0,"eps":0.356},{"pulse":"Pulse 3","time":54.5,"eps":0.338},{"pulse":"Pulse 3","time":59.4,"eps":0.344},{"pulse":"Pulse 3","time":64.7,"eps":0.322},{"pulse":"Pulse 3","time":70.5,"eps":0.33},{"pulse":"Pulse 3","time":76.8,"eps":0.305},{"pulse":"Pulse 3","time":83.7,"eps":0.316},{"pulse":"Pulse 3","time":91.2,"eps":0.294},{"pulse":"Pulse 3","time":97.5,"eps":0.305},{"pulse":"Pulse 3","time":102,"eps":0.284},{"pulse":"Pulse 3","time":106,"eps":0.296},{"pulse":"Pulse 3","time":110,"eps":0.276},{"pulse":"Pulse 3","time":115,"eps":0.288},{"pulse":"Pulse 3","time":120,"eps":0.27},{"pulse":"Pulse 3","time":125,"eps":0.282},{"pulse":"Pulse 3","time":131,"eps":0.265},{"pulse":"Pulse 3","time":138,"eps":0.23},{"pulse":"Pulse 3","time":141,"eps":0.26},{"pulse":"Pulse 3","time":144,"eps":0.195},{"pulse":"Pulse 3","time":147,"eps":0.25},{"pulse":"Pulse 3","time":150,"eps":0.19},{"pulse":"Pulse 3","time":153,"eps":0.24},{"pulse":"Pulse 3","time":156,"eps":0.2},{"pulse":"Pulse 3","time":159,"eps":0.23},{"pulse":"Pulse 3","time":162,"eps":0.19},{"pulse":"Pulse 3","time":165,"eps":0.226},{"pulse":"Pulse 3","time":168,"eps":0.19},{"pulse":"Pulse 3","time":172,"eps":0.22},{"pulse":"Pulse 3","time":176,"eps":0.19},{"pulse":"Pulse 3","time":180,"eps":0.215},{"pulse":"Pulse 3","time":184,"eps":0.19},{"pulse":"Pulse 3","time":188,"eps":0.21},{"pulse":"Pulse 3","time":192,"eps":0.19},{"pulse":"Pulse 3","time":197,"eps":0.205},
{"pulse":"Pulse 3","time":1110,"eps":0.145},{"pulse":"Pulse 3","time":1190,"eps":0.14},{"pulse":"Pulse 3","time":1275,"eps":0.138},{"pulse":"Pulse 3","time":1365,"eps":0.135},{"pulse":"Pulse 3","time":1460,"eps":0.13},{"pulse":"Pulse 3","time":1565,"eps":0.128},{"pulse":"Pulse 3","time":1675,"eps":0.125},{"pulse":"Pulse 3","time":1790,"eps":0.122},{"pulse":"Pulse 3","time":1900,"eps":0.128},{"pulse":"Pulse 3","time":2015,"eps":0.112},{"pulse":"Pulse 3","time":2150,"eps":0.115},{"pulse":"Pulse 3","time":2295,"eps":0.11},{"pulse":"Pulse 3","time":2450,"eps":0.105},{"pulse":"Pulse 3","time":2610,"eps":0.1},{"pulse":"Pulse 3","time":2770,"eps":0.095},{"pulse":"Pulse 3","time":2925,"eps":0.1},{"pulse":"Pulse 3","time":3075,"eps":0.1},{"pulse":"Pulse 3","time":3225,"eps":0.095},{"pulse":"Pulse 3","time":3375,"eps":0.092},{"pulse":"Pulse 3","time":3525,"eps":0.09},{"pulse":"Pulse 3","time":3675,"eps":0.088},{"pulse":"Pulse 3","time":3825,"eps":0.085},{"pulse":"Pulse 3","time":3975,"eps":0.082},{"pulse":"Pulse 3","time":4125,"eps":0.08},{"pulse":"Pulse 3","time":4275,"eps":0.078},{"pulse":"Pulse 3","time":4425,"eps":0.075},{"pulse":"Pulse 3","time":4575,"eps":0.073},{"pulse":"Pulse 3","time":4725,"eps":0.07},{"pulse":"Pulse 3","time":4875,"eps":0.068},{"pulse":"Pulse 3","time":5025,"eps":0.065},{"pulse":"Pulse 3","time":5175,"eps":0.064},{"pulse":"Pulse 3","time":5325,"eps":0.062},{"pulse":"Pulse 3","time":5475,"eps":0.06},{"pulse":"Pulse 3","time":5625,"eps":0.058},{"pulse":"Pulse 3","time":5775,"eps":0.057},{"pulse":"Pulse 3","time":5925,"eps":0.055},{"pulse":"Pulse 3","time":6075,"eps":0.052},{"pulse":"Pulse 3","time":6225,"eps":0.05},{"pulse":"Pulse 3","time":6375,"eps":0.048},{"pulse":"Pulse 3","time":6525,"eps":0.045},{"pulse":"Pulse 3","time":6675,"eps":0.04},{"pulse":"Pulse 3","time":6825,"eps":0.035},{"pulse":"Pulse 3","time":6950,"eps":0.03},
{"pulse":"Pulse 4","time":9.4,"eps":0.52},{"pulse":"Pulse 4","time":10.2,"eps":0.512},{"pulse":"Pulse 4","time":11.0,"eps":0.49},{"pulse":"Pulse 4","time":12.0,"eps":0.482},{"pulse":"Pulse 4","time":13.0,"eps":0.462},{"pulse":"Pulse 4","time":14.2,"eps":0.458},{"pulse":"Pulse 4","time":15.4,"eps":0.44},{"pulse":"Pulse 4","time":16.8,"eps":0.436},{"pulse":"Pulse 4","time":18.2,"eps":0.418},{"pulse":"Pulse 4","time":19.8,"eps":0.415},{"pulse":"Pulse 4","time":21.6,"eps":0.398},{"pulse":"Pulse 4","time":23.5,"eps":0.395},{"pulse":"Pulse 4","time":25.6,"eps":0.378},{"pulse":"Pulse 4","time":27.8,"eps":0.376},{"pulse":"Pulse 4","time":30.3,"eps":0.36},{"pulse":"Pulse 4","time":33.0,"eps":0.358},{"pulse":"Pulse 4","time":35.9,"eps":0.344},{"pulse":"Pulse 4","time":39.1,"eps":0.342},{"pulse":"Pulse 4","time":42.6,"eps":0.328},{"pulse":"Pulse 4","time":46.5,"eps":0.33},{"pulse":"Pulse 4","time":50.6,"eps":0.315},{"pulse":"Pulse 4","time":55.1,"eps":0.312},{"pulse":"Pulse 4","time":60.0,"eps":0.298},{"pulse":"Pulse 4","time":65.4,"eps":0.3},{"pulse":"Pulse 4","time":71.2,"eps":0.285},{"pulse":"Pulse 4","time":77.6,"eps":0.284},{"pulse":"Pulse 4","time":84.5,"eps":0.27},{"pulse":"Pulse 4","time":92.1,"eps":0.272},{"pulse":"Pulse 4","time":99,"eps":0.258},{"pulse":"Pulse 4","time":104,"eps":0.26},{"pulse":"Pulse 4","time":108.5,"eps":0.25},{"pulse":"Pulse 4","time":113.5,"eps":0.252},{"pulse":"Pulse 4","time":118.5,"eps":0.242},{"pulse":"Pulse 4","time":123.5,"eps":0.245},{"pulse":"Pulse 4","time":129,"eps":0.235},{"pulse":"Pulse 4","time":135,"eps":0.24},{"pulse":"Pulse 4","time":141,"eps":0.228},{"pulse":"Pulse 4","time":147,"eps":0.232},{"pulse":"Pulse 4","time":153,"eps":0.222},{"pulse":"Pulse 4","time":159,"eps":0.228},{"pulse":"Pulse 4","time":165,"eps":0.215},{"pulse":"Pulse 4","time":171.5,"eps":0.22},{"pulse":"Pulse 4","time":178.5,"eps":0.208},{"pulse":"Pulse 4","time":185.5,"eps":0.212},{"pulse":"Pulse 4","time":192.5,"eps":0.2},{"pulse":"Pulse 4","time":200,"eps":0.205},
{"pulse":"Pulse 4","time":1075,"eps":0.1},{"pulse":"Pulse 4","time":1170,"eps":0.095},{"pulse":"Pulse 4","time":1275,"eps":0.09},{"pulse":"Pulse 4","time":1390,"eps":0.088},{"pulse":"Pulse 4","time":1515,"eps":0.082},{"pulse":"Pulse 4","time":1640,"eps":0.078},{"pulse":"Pulse 4","time":1765,"eps":0.07},{"pulse":"Pulse 4","time":1890,"eps":0.065},{"pulse":"Pulse 4","time":2025,"eps":0.07},{"pulse":"Pulse 4","time":2175,"eps":0.072},{"pulse":"Pulse 4","time":2325,"eps":0.068},{"pulse":"Pulse 4","time":2490,"eps":0.062},{"pulse":"Pulse 4","time":2665,"eps":0.06},{"pulse":"Pulse 4","time":2850,"eps":0.058},{"pulse":"Pulse 4","time":3050,"eps":0.055},{"pulse":"Pulse 4","time":3250,"eps":0.05},{"pulse":"Pulse 4","time":3450,"eps":0.048},{"pulse":"Pulse 4","time":3650,"eps":0.045},{"pulse":"Pulse 4","time":3850,"eps":0.04},{"pulse":"Pulse 4","time":4010,"eps":0.03},{"pulse":"Pulse 4","time":4135,"eps":0.02},{"pulse":"Pulse 4","time":4300,"eps":0.04},{"pulse":"Pulse 4","time":4500,"eps":0.035},{"pulse":"Pulse 4","time":4700,"eps":0.032},{"pulse":"Pulse 4","time":4900,"eps":0.03},{"pulse":"Pulse 4","time":5100,"eps":0.028},{"pulse":"Pulse 4","time":5300,"eps":0.025},{"pulse":"Pulse 4","time":5500,"eps":0.022},{"pulse":"Pulse 4","time":5700,"eps":0.02},{"pulse":"Pulse 4","time":5900,"eps":0.018},{"pulse":"Pulse 4","time":6100,"eps":0.015},{"pulse":"Pulse 4","time":6300,"eps":0.012},{"pulse":"Pulse 4","time":6500,"eps":0.008},{"pulse":"Pulse 4","time":6700,"eps":0.0},{"pulse":"Pulse 4","time":6900,"eps":-0.01},{"pulse":"Pulse 4","time":7000,"eps":-0.015}
]
},
"encoding": {
"x": {"field": "time", "type": "quantitative",
 "scale": {"type": "log", "domain": [0.01, 10000], "nice": false},
 "axis": {
  "values": [0.01,0.02,0.03,0.04,0.05,0.06,0.07,0.08,0.09,0.1,0.2,0.3,0.4,0.5,0.6,0.7,0.8,0.9,1,2,3,4,5,6,7,8,9,10,20,30,40,50,60,70,80,90,100,200,300,400,500,600,700,800,900,1000,2000,3000,4000,5000,6000,7000,8000,9000,10000],
  "labelExpr": "abs(log(datum.value)/LN10 - round(log(datum.value)/LN10)) < 0.001 ? '1E' + (round(log(datum.value)/LN10) >= 0 ? '+' : '') + round(log(datum.value)/LN10) : ''",
  "tickSize": {"condition": {"test": "abs(log(datum.value)/LN10 - round(log(datum.value)/LN10)) < 0.001", "value": 20}, "value": 10},
  "tickWidth": 3, "tickColor": "black",
  "domainColor": "black", "domainWidth": 4,
  "grid": true, "gridColor": "#333333", "gridDash": [10, 5], "gridWidth": 1.4,
  "gridOpacity": {"condition": {"test": "abs(log(datum.value)/LN10 - round(log(datum.value)/LN10)) < 0.001", "value": 1}, "value": 0},
  "labelFont": "Liberation Serif", "labelFontSize": 40, "labelFontWeight": "bold", "labelFontStyle": "italic", "labelColor": "black",
  "labelBaseline": "alphabetic", "labelPadding": 57, "labelFlush": false, "labelOverlap": false, "labelBound": false,
  "title": "Time (seconds)", "titleFont": "Liberation Serif", "titleFontSize": 40, "titleFontWeight": "bold", "titleFontStyle": "italic", "titleColor": "black",
  "titleX": 378, "titleY": 125, "titleBaseline": "alphabetic", "titleAlign": "center", "titleAnchor": null
 }},
"y": {"field": "eps", "type": "quantitative",
 "scale": {"domain": [-0.1, 1.1], "nice": false, "zero": false},
 "axis": {
  "values": [-0.1,0,0.1,0.2,0.3,0.4,0.5,0.6,0.7,0.8,0.9,1.0,1.1],
  "labelExpr": "abs(round(datum.value*10)) % 2 == 1 ? (datum.value < 0 ? '-' : '') + format(abs(datum.value), '.1f') : ''",
  "tickSize": {"condition": {"test": "abs(round(datum.value*10)) % 2 == 1", "value": 20}, "value": 10},
  "tickWidth": 3, "tickColor": "black",
  "domainColor": "black", "domainWidth": 4,
  "grid": true, "gridColor": "#333333", "gridDash": [10, 5], "gridWidth": 1.4,
  "gridOpacity": {"condition": {"test": "abs(round(datum.value*10)) % 2 == 1", "value": 1}, "value": 0},
  "labelFont": "Liberation Serif", "labelFontSize": 40, "labelFontWeight": "bold", "labelFontStyle": "italic", "labelColor": "black",
  "labelPadding": 21, "labelBaseline": "middle", "labelFlush": false, "labelOverlap": false, "labelBound": false,
  "title": "ε", "titleFont": "Liberation Serif", "titleFontSize": 54, "titleFontWeight": "normal", "titleFontStyle": "normal", "titleColor": "black",
  "titleAngle": 0, "titleX": -129, "titleY": 311, "titleBaseline": "middle", "titleAlign": "center", "titleAnchor": null
 }}
},
"layer": [
{"data": {"name": "curve"},
 "mark": {"type": "line", "color": "black", "strokeWidth": 1.1, "clip": false},
 "encoding": {"detail": {"field": "pulse"}}},
{"data": {"name": "curve"},
 "transform": [{"filter": "datum.time >= 9"}],
 "mark": {"type": "point", "filled": false, "color": "black", "strokeWidth": 1, "size": 484, "opacity": 1},
 "encoding": {"shape": {"field": "pulse", "type": "nominal", "legend": null,
   "scale": {"domain": ["Pulse 1","Pulse 2","Pulse 3","Pulse 4"], "range": ["M-1,0L0,-1L1,0L0,1Z","M0,-1.03L0.232,-0.319L0.98,-0.318L0.375,0.122L0.605,0.833L0,0.394L-0.605,0.833L-0.375,0.122L-0.98,-0.318L-0.232,-0.319Z","M0,-1.03L0.865,0.54L-0.865,0.54Z","M-1,0A1,1,0,1,0,1,0A1,1,0,1,0,-1,0Z"]}}}},
{"data": {"name": "early"},
 "mark": {"type": "point", "filled": false, "color": "black", "strokeWidth": 1, "size": 484, "opacity": 1},
 "encoding": {"shape": {"field": "pulse", "type": "nominal", "legend": null,
   "scale": {"domain": ["Pulse 1","Pulse 2","Pulse 3","Pulse 4"], "range": ["M-1,0L0,-1L1,0L0,1Z","M0,-1.03L0.232,-0.319L0.98,-0.318L0.375,0.122L0.605,0.833L0,0.394L-0.605,0.833L-0.375,0.122L-0.98,-0.318L-0.232,-0.319Z","M0,-1.03L0.865,0.54L-0.865,0.54Z","M-1,0A1,1,0,1,0,1,0A1,1,0,1,0,-1,0Z"]}}}},
{"data": {"name": "early"},
 "mark": {"type": "point", "filled": false, "color": "black", "strokeWidth": 1, "size": 10, "opacity": 0},
 "encoding": {"shape": {"field": "pulse", "type": "nominal",
   "scale": {"domain": ["Pulse 1","Pulse 2","Pulse 3","Pulse 4"], "range": ["M-3.03,0L3.03,0M-1,0L0,-1L1,0L0,1ZM11,0","M-3.03,0L3.03,0M0,-1.03L0.232,-0.319L0.98,-0.318L0.375,0.122L0.605,0.833L0,0.394L-0.605,0.833L-0.375,0.122L-0.98,-0.318L-0.232,-0.319ZM11,0","M-3.03,0L3.03,0M0,-1.03L0.865,0.54L-0.865,0.54ZM11,0","M-3.03,0L3.03,0M-1,0A1,1,0,1,0,1,0A1,1,0,1,0,-1,0ZM11,0"]},
   "legend": {"orient": "none", "legendX": 466, "legendY": 0, "title": null, "padding": 15, "cornerRadius": 22, "strokeColor": "black", "fillColor": "white",
     "symbolSize": 1369, "symbolStrokeWidth": 1, "symbolOffset": 37, "labelOffset": 73, "rowPadding": 25,
     "symbolOpacity": 1, "symbolFillColor": "transparent", "symbolStrokeColor": "black",
     "labelFont": "Liberation Serif", "labelFontSize": 34, "labelFontWeight": "bold", "labelFontStyle": "italic", "labelColor": "black", "labelLimit": 400
   }}}}
],
"resolve": {"scale": {"shape": "independent"}}
}
